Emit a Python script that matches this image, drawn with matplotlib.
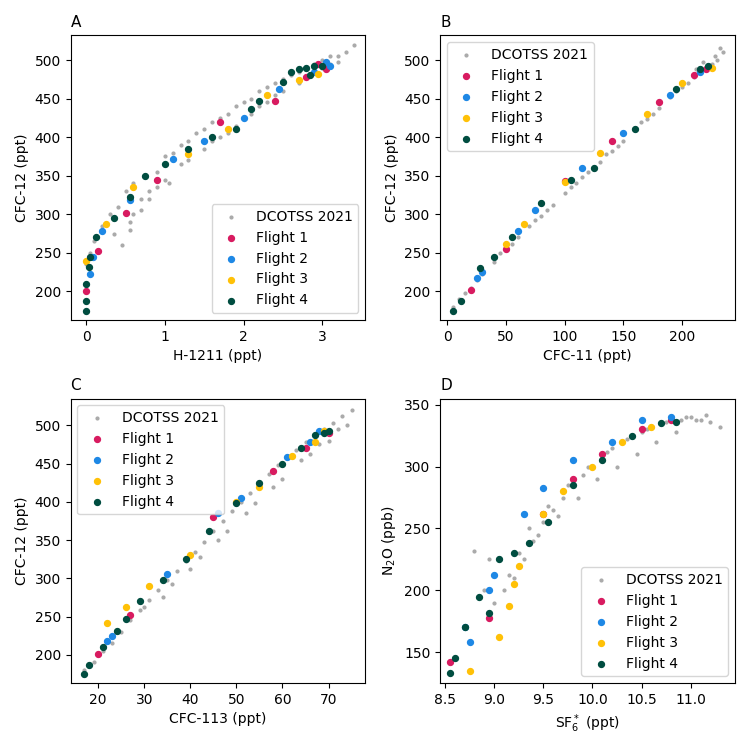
import matplotlib.pyplot as plt

COLORS = {"Flight 1": "#d81b60", "Flight 2": "#1e88e5", "Flight 3": "#ffc107", "Flight 4": "#004d40"}

# ---- Panel A: H-1211 vs CFC-12 ----
a_gray_x = [0.0, 0.05, 0.1, 0.2, 0.3, 0.4, 0.45, 0.5, 0.55, 0.6, 0.7, 0.75, 0.8, 0.9, 1.0, 1.05,
            1.1, 1.2, 1.3, 1.4, 1.5, 1.6, 1.7, 1.8, 1.9, 2.0, 2.1, 2.2, 2.3, 2.4, 2.5, 2.6, 2.7,
            2.8, 2.9, 3.0, 3.1, 3.2, 3.3, 3.4, 0.6, 0.8, 1.0, 1.3, 1.6, 1.9, 2.2, 2.5, 2.8, 3.0,
            0.35, 0.7, 1.2, 1.5, 1.8, 2.1, 2.4, 2.7, 2.9, 3.1, 0.55, 0.9, 1.7, 2.3, 3.2]
a_gray_y = [235, 250, 265, 285, 300, 310, 260, 330, 280, 340, 305, 350, 330, 355, 375, 340,
            380, 390, 395, 405, 410, 420, 425, 430, 440, 445, 450, 460, 465, 470, 475, 480, 485,
            490, 495, 500, 505, 505, 510, 520, 300, 320, 345, 370, 395, 415, 440, 460, 478, 490,
            275, 320, 365, 385, 405, 430, 455, 470, 485, 495, 290, 335, 400, 445, 498]
a_flights = {
    "Flight 1": ([0.0, 0.15, 0.5, 0.9, 1.7, 2.4, 2.8, 3.05, 2.95],
                 [200, 252, 302, 345, 420, 447, 478, 488, 495]),
    "Flight 2": ([0.05, 0.08, 0.2, 0.55, 1.1, 1.5, 2.0, 2.45, 2.9, 3.1, 3.05],
                 [222, 244, 278, 318, 372, 395, 425, 462, 485, 492, 497]),
    "Flight 3": ([0.0, 0.25, 0.6, 1.3, 1.8, 2.3, 2.7, 2.95],
                 [240, 288, 335, 378, 410, 455, 474, 482]),
    "Flight 4": ([0.0, 0.0, 0.0, 0.03, 0.05, 0.12, 0.35, 0.55, 0.75, 1.0, 1.3, 1.6, 1.9, 2.1, 2.2,
                  2.5, 2.6, 2.7, 2.8, 2.9, 3.0, 2.85],
                 [175, 187, 210, 232, 245, 270, 295, 323, 350, 365, 385, 400, 410, 437, 447,
                  472, 485, 488, 490, 492, 492, 480]),
}

# ---- Panel B: CFC-11 vs CFC-12 ----
b_gray_x = [5, 10, 20, 30, 40, 50, 60, 70, 80, 90, 100, 110, 120, 130, 140, 150, 160, 170, 180,
            190, 200, 205, 210, 215, 220, 225, 230, 235, 15, 45, 75, 105, 135, 165, 195, 212, 228,
            25, 55, 85, 115, 145, 175, 200, 218, 232]
b_gray_y = [180, 190, 205, 222, 238, 255, 270, 285, 298, 312, 328, 340, 355, 368, 382, 395, 410,
            423, 438, 452, 465, 470, 478, 485, 490, 495, 500, 510, 198, 250, 292, 335, 378, 420,
            460, 488, 505, 215, 262, 305, 348, 388, 430, 472, 498, 515]
b_flights = {
    "Flight 1": ([20, 50, 100, 140, 180, 210, 220], [202, 255, 343, 395, 445, 480, 488]),
    "Flight 2": ([25, 30, 60, 75, 115, 150, 190, 215], [218, 225, 278, 305, 360, 405, 455, 485]),
    "Flight 3": ([50, 65, 100, 130, 170, 200, 225], [262, 288, 342, 380, 430, 470, 490]),
    "Flight 4": ([5, 12, 28, 40, 55, 80, 105, 125, 160, 195, 215, 222],
                 [175, 187, 230, 245, 270, 315, 345, 360, 410, 462, 488, 492]),
}

# ---- Panel C: CFC-113 vs CFC-12 ----
c_gray_x = [17, 19, 21, 23, 25, 27, 29, 31, 33, 35, 37, 39, 41, 43, 45, 47, 49, 51, 53, 55, 57,
            59, 61, 63, 65, 67, 69, 71, 73, 75, 30, 36, 42, 48, 54, 60, 66, 70, 74, 34, 40, 46,
            52, 58, 64, 68, 72]
c_gray_y = [180, 190, 205, 215, 230, 245, 258, 272, 285, 298, 310, 322, 335, 348, 362, 375, 388,
            400, 412, 425, 436, 448, 458, 468, 478, 487, 495, 503, 512, 520, 262, 292, 328, 362,
            398, 430, 462, 480, 500, 275, 312, 350, 385, 420, 455, 475, 495]
c_flights = {
    "Flight 1": ([20, 27, 45, 58, 65, 70], [201, 252, 380, 440, 470, 490]),
    "Flight 2": ([22, 23, 35, 46, 51, 61, 66, 68], [218, 225, 305, 385, 405, 458, 478, 492]),
    "Flight 3": ([22, 26, 31, 40, 50, 55, 62, 67, 69], [241, 262, 290, 330, 400, 420, 460, 478, 492]),
    "Flight 4": ([17, 18, 21, 24, 26, 29, 34, 39, 44, 50, 55, 60, 64, 67, 69, 70],
                 [175, 187, 210, 231, 247, 270, 298, 325, 362, 398, 425, 450, 470, 487, 490, 492]),
}

# ---- Panel D: SF6 vs N2O ----
d_gray_x = [8.8, 8.9, 9.0, 9.1, 9.2, 9.3, 9.4, 9.5, 9.6, 9.7, 9.8, 9.9, 10.0, 10.1, 10.2, 10.3,
            10.4, 10.5, 10.6, 10.7, 10.8, 10.9, 11.0, 11.1, 11.2, 11.3, 9.25, 9.45, 9.65, 9.85,
            10.05, 10.25, 10.45, 10.65, 10.85, 11.05, 9.35, 9.55, 9.75, 9.95, 10.15, 10.35, 10.55,
            10.75, 10.95, 11.15, 9.15, 8.95]
d_gray_y = [232, 200, 190, 200, 210, 225, 240, 255, 265, 275, 285, 293, 300, 308, 315, 320, 325,
            328, 332, 335, 337, 338, 340, 338, 336, 332, 230, 245, 260, 275, 290, 300, 310, 320,
            328, 338, 250, 268, 285, 300, 312, 322, 330, 336, 340, 342, 212, 225]
d_flights = {
    "Flight 1": ([8.55, 8.95, 9.5, 9.8, 10.1, 10.5, 10.8], [142, 178, 262, 290, 310, 330, 338]),
    "Flight 2": ([8.7, 8.75, 8.95, 9.0, 9.3, 9.5, 9.8, 10.2, 10.5, 10.8],
                 [170, 158, 200, 212, 262, 283, 305, 320, 338, 340]),
    "Flight 3": ([8.75, 9.05, 9.15, 9.2, 9.25, 9.5, 9.7, 10.0, 10.3, 10.6],
                 [135, 162, 187, 205, 220, 262, 280, 300, 320, 332]),
    "Flight 4": ([8.55, 8.6, 8.7, 8.85, 8.95, 9.05, 9.2, 9.35, 9.55, 9.8, 10.1, 10.4, 10.7, 10.85],
                 [133, 145, 170, 195, 182, 225, 230, 238, 255, 285, 305, 325, 335, 336]),
}

panels = [
    ("A", a_gray_x, a_gray_y, a_flights, "H-1211 (ppt)", "CFC-12 (ppt)", "lower right"),
    ("B", b_gray_x, b_gray_y, b_flights, "CFC-11 (ppt)", "CFC-12 (ppt)", "upper left"),
    ("C", c_gray_x, c_gray_y, c_flights, "CFC-113 (ppt)", "CFC-12 (ppt)", "upper left"),
    ("D", d_gray_x, d_gray_y, d_flights, r"SF$_6^*$ (ppt)", r"N$_2$O (ppb)", "lower right"),
]

fig, axes = plt.subplots(2, 2, figsize=(7.5, 7.5), dpi=100)
for ax, (label, gx, gy, flights, xlabel, ylabel, loc) in zip(axes.flat, panels):
    ax.scatter(gx, gy, s=4, color="#aaaaaa", label="DCOTSS 2021")
    for name, (fx, fy) in flights.items():
        ax.scatter(fx, fy, s=18, color=COLORS[name], label=name)
    ax.set_xlabel(xlabel)
    ax.set_ylabel(ylabel)
    ax.set_title(label, loc="left", fontsize=11)
    ax.legend(loc=loc)

axes[0, 0].set_xlim(-0.2, 3.55)
axes[0, 0].set_ylim(163, 532)
axes[0, 1].set_xlim(-6, 245)
axes[0, 1].set_ylim(163, 532)
axes[1, 0].set_xlim(14, 78)
axes[1, 0].set_ylim(163, 535)
axes[1, 1].set_xlim(8.45, 11.45)
axes[1, 1].set_ylim(125, 355)
axes[1, 1].set_xticks([8.5, 9.0, 9.5, 10.0, 10.5, 11.0])

plt.tight_layout()
plt.savefig("out.png")
